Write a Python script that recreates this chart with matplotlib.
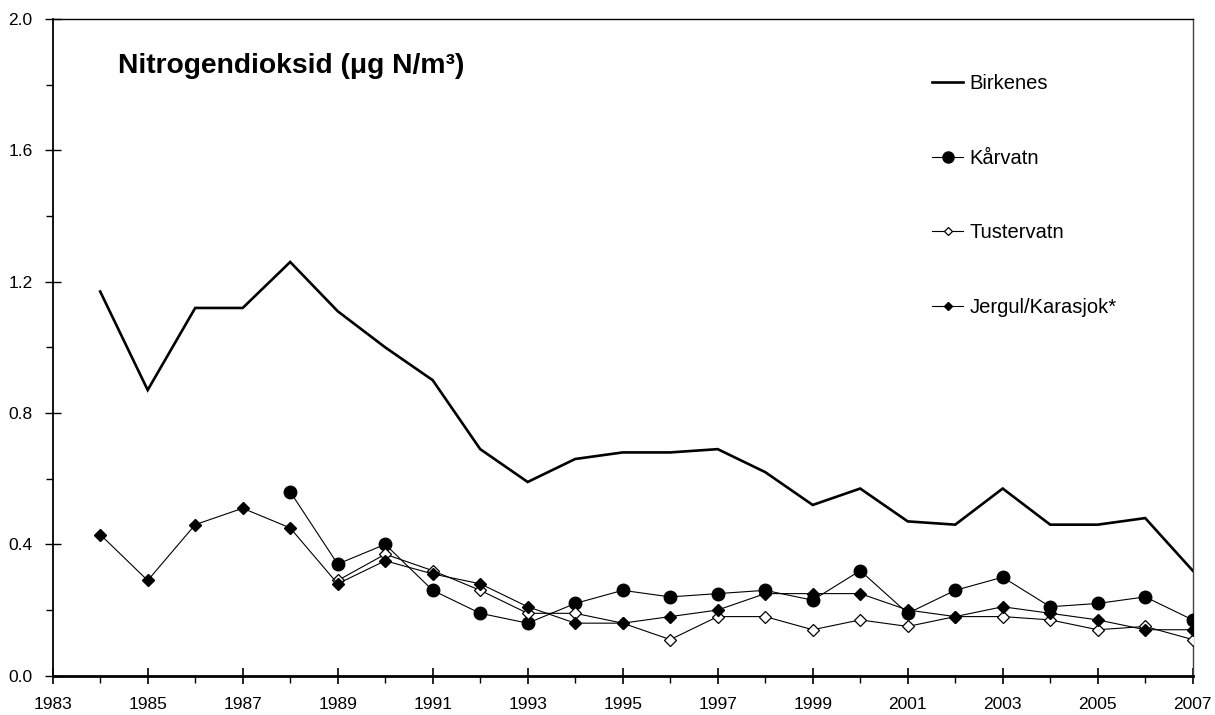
import matplotlib
matplotlib.use("Agg")
import matplotlib.pyplot as plt
from matplotlib.lines import Line2D
from matplotlib.ticker import MultipleLocator, FixedLocator, FormatStrFormatter

plt.rcParams['font.family'] = ['Liberation Sans', 'DejaVu Sans']

years_birkenes = list(range(1984, 2008))
birkenes = [1.17, 0.87, 1.12, 1.12, 1.26, 1.11, 1.00, 0.90, 0.69, 0.59, 0.66, 0.68,
            0.68, 0.69, 0.62, 0.52, 0.57, 0.47, 0.46, 0.57, 0.46, 0.46, 0.48, 0.32]

years_karvatn = list(range(1988, 2008))
karvatn = [0.56, 0.34, 0.40, 0.26, 0.19, 0.16, 0.22, 0.26, 0.24, 0.25, 0.26, 0.23,
           0.32, 0.19, 0.26, 0.30, 0.21, 0.22, 0.24, 0.17]

years_tustervatn = list(range(1989, 2008))
tustervatn = [0.29, 0.37, 0.32, 0.26, 0.19, 0.19, 0.16, 0.11, 0.18, 0.18, 0.14,
              0.17, 0.15, 0.18, 0.18, 0.17, 0.14, 0.15, 0.11]

years_jergul = list(range(1984, 2008))
jergul = [0.43, 0.29, 0.46, 0.51, 0.45, 0.28, 0.35, 0.31, 0.28, 0.21, 0.16, 0.16,
          0.18, 0.20, 0.25, 0.25, 0.25, 0.20, 0.18, 0.21, 0.19, 0.17, 0.14, 0.14]

labels = ["Birkenes", "Kårvatn", "Tustervatn", "Jergul/Karasjok*"]
title = "Nitrogendioksid (μg N/m³)"
x_major_ticks = list(range(1983, 2008, 2))

fig = plt.figure(figsize=(12.15, 7.15), dpi=100)
ax = fig.add_axes([52.7/1215, 1-675.7/715, (1192.7-52.7)/1215, (675.7-19)/715])

ax.plot(years_birkenes, birkenes, color='black', lw=1.9, solid_joinstyle='miter', zorder=3)
ax.plot(years_karvatn, karvatn, color='black', lw=0.8, marker='o', ms=9,
        mfc='black', mec='black', zorder=4)
ax.plot(years_tustervatn, tustervatn, color='black', lw=0.8, marker='D', ms=6,
        mfc='white', mec='black', mew=0.9, zorder=5)
ax.plot(years_jergul, jergul, color='black', lw=0.8, marker='D', ms=6,
        mfc='black', mec='black', zorder=6)

ax.set_xlim(1983, 2007)
ax.set_ylim(0, 2.0)
ax.xaxis.set_major_locator(FixedLocator(x_major_ticks))
ax.xaxis.set_minor_locator(MultipleLocator(1))
ax.yaxis.set_major_locator(MultipleLocator(0.4))
ax.yaxis.set_minor_locator(MultipleLocator(0.2))
ax.yaxis.set_major_formatter(FormatStrFormatter('%.1f'))

ax.tick_params(axis='x', which='major', direction='inout', length=11, width=1.2,
               labelsize=12.5, pad=10)
ax.tick_params(axis='x', which='minor', direction='out', length=5, width=1.0)
ax.tick_params(axis='y', which='major', direction='inout', length=11, width=1.0,
               labelsize=12.5, pad=9)
ax.tick_params(axis='y', which='minor', direction='out', length=5, width=1.0)

ax.spines['bottom'].set_linewidth(2.0)
ax.spines['left'].set_linewidth(1.3)
ax.spines['top'].set_linewidth(1.0)
ax.spines['right'].set_linewidth(1.0)
ax.spines['right'].set_color('#444444')

fig.text(118/1215, 1-66/715, title, fontsize=20.3, fontweight='bold',
         ha='left', va='center')

handles = [
    Line2D([], [], color='black', lw=1.9),
    Line2D([], [], color='black', lw=0.8, marker='o', ms=8, mfc='black', mec='black'),
    Line2D([], [], color='black', lw=0.8, marker='D', ms=4.5, mfc='white', mec='black', mew=0.9),
    Line2D([], [], color='black', lw=0.8, marker='D', ms=4.5, mfc='black', mec='black'),
]
fig.legend(handles, labels, loc='upper left', bbox_to_anchor=(931.7/1215, 1-74/715),
           frameon=False, fontsize=14.5, handlelength=1.57, handletextpad=0.3,
           labelspacing=2.76, borderpad=0, borderaxespad=0)

fig.savefig("out.png", dpi=100, facecolor='white')
